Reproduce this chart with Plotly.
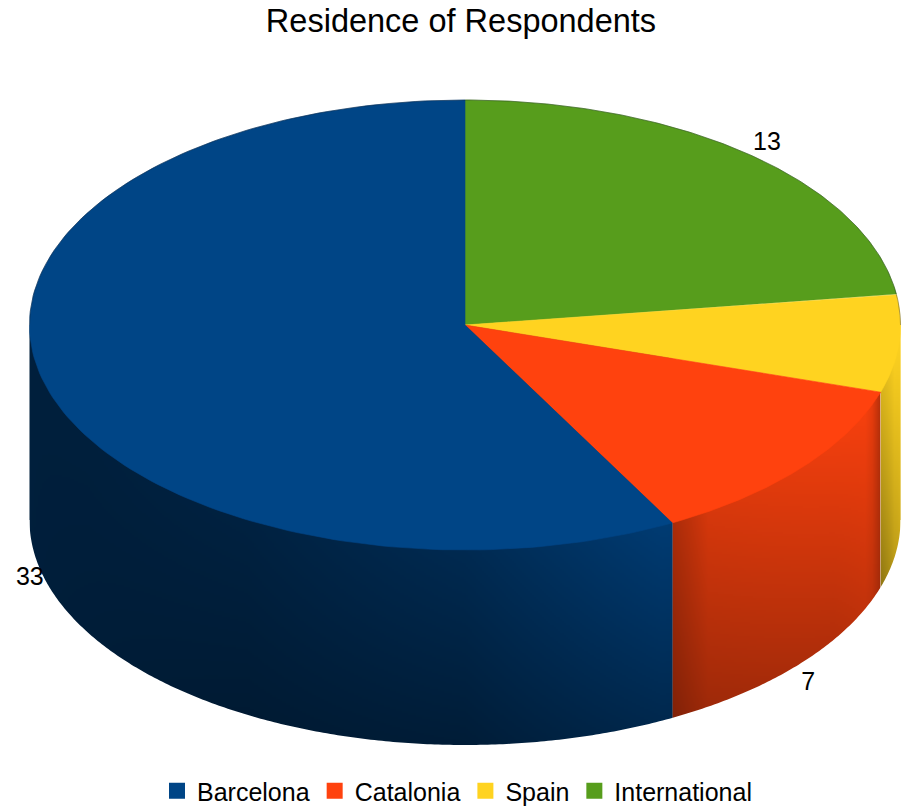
import numpy as np
import plotly.graph_objects as go

TITLE = "Residence of Respondents"
categories = ["Barcelona", "Catalonia", "Spain", "International"]
values = [33, 7, 4, 13]
colors = ["#004586", "#ff420e", "#ffd320", "#579d1c"]

# Pie drawing frame, in the pixel-scaled axes
CX, CY, RX, RY, DEPTH = 465.0, 325.0, 435.5, 225.0, 195.0

# Order of slices clockwise from 12 o'clock (as in the reference)
clock_order = [3, 2, 1, 0]
LABEL_NUDGE = {0: (-13, 4), 1: (7, 21), 2: (9, 11), 3: (16, -12)}

# Side shading: angle nodes, brightness at top and bottom of the wall
SHADE = {
    0: ([151.6, 153, 180, 210, 240, 270], [0.85, 0.85, 0.60, 0.48, 0.45, 0.45], [0.58, 0.58, 0.41, 0.38, 0.42, 0.45]),
    1: ([107.4, 110.5, 113, 122, 146, 149, 151.6], [0.72, 0.90, 0.96, 0.93, 0.84, 0.74, 0.66], [0.64, 0.74, 0.76, 0.70, 0.62, 0.56, 0.50]),
    2: ([90, 100, 107.4], [1.00, 0.97, 0.84], [0.84, 0.74, 0.56]),
}


def pt(theta, depth=0.0):
    t = np.radians(theta)
    return CX + RX * np.sin(t), CY - RY * np.cos(t) + depth


total = sum(values)
spans = {}
a = 0.0
for idx in clock_order:
    b = a + values[idx] / total * 360
    spans[idx] = (a, b)
    a = b

fig = go.Figure()


def wall(idx):
    a0, b0 = spans[idx]
    lo, hi = max(a0, 90), min(b0, 270)
    if lo >= hi:
        return
    nodes, top, bot = SHADE[idx]
    x_hi, x_lo = float(pt(lo)[0]), float(pt(hi)[0])
    nx = max(4, int(round((x_hi - x_lo) / (2 if idx == 0 else 1))))
    dx = (x_hi - x_lo) / nx
    xc = x_lo + dx * (np.arange(nx) + 0.5)
    y_start = float(min(pt(lo)[1], pt(hi)[1]))
    y_end = float(max(pt(lo, DEPTH)[1], pt(hi, DEPTH)[1], pt(np.clip(180, lo, hi), DEPTH)[1])) + 2
    dy = 2.0
    ny = int(np.ceil((y_end - y_start) / dy))
    yc = y_start + dy * (np.arange(ny) + 0.5)
    theta = 180 - np.degrees(np.arcsin(np.clip((xc - CX) / RX, -1, 1)))
    ft, fb = np.interp(theta, nodes, top), np.interp(theta, nodes, bot)
    surface_y = CY - RY * np.cos(np.radians(theta))
    d = np.clip((yc[:, None] - surface_y[None, :]) / DEPTH, 0, 1)
    z = np.round(ft[None, :] + (fb - ft)[None, :] * d, 3)
    fig.add_trace(go.Heatmap(z=z, x0=x_lo + dx / 2, dx=dx, y0=y_start + dy / 2, dy=dy, zmin=0, zmax=1,
                             colorscale=[[0, "#000000"], [1, colors[idx]]], showscale=False,
                             hoverinfo="skip"))


def top_face(idx):
    a0, b0 = spans[idx]
    th = np.linspace(a0, b0, 160)
    x, y = pt(th)
    xs = [CX] + list(x) + [CX]
    ys = [CY] + list(y) + [CY]
    fig.add_trace(go.Scatter(x=xs, y=ys, mode="lines", fill="toself", fillcolor=colors[idx],
                             line=dict(color=colors[idx], width=0.6), showlegend=False,
                             name=categories[idx], hoverinfo="name"))


for idx in clock_order:
    wall(idx)

# White cover that gives the walls their curved, anti-aliased lower edge
arc_t = np.linspace(90, 270, 361)
arc_x, arc_y = pt(arc_t, DEPTH)
fig.add_trace(go.Scatter(
    x=list(arc_x) + [CX - RX - 1, CX - RX - 1, CX + RX + 1, CX + RX + 1],
    y=list(arc_y) + [arc_y[-1], CY + RY + DEPTH + 12, CY + RY + DEPTH + 12, arc_y[0]],
    mode="none", fill="toself", fillcolor="#ffffff", showlegend=False, hoverinfo="skip"))

for idx in clock_order:
    top_face(idx)

# Thin dark rim along the back of the disc
rim_t = np.linspace(270, 450, 361)
rim_x, rim_y = pt(rim_t)
fig.add_trace(go.Scatter(x=rim_x, y=rim_y, mode="lines", line=dict(color="rgba(20,30,40,0.35)", width=1),
                         showlegend=False, hoverinfo="skip"))

# Legend entries
for name, col in zip(categories, colors):
    fig.add_trace(go.Scatter(x=[None], y=[None], mode="markers", name=name,
                             marker=dict(symbol="square", size=16, color=col)))

# Data labels
for idx in clock_order:
    a0, b0 = spans[idx]
    mid = (a0 + b0) / 2
    back = np.cos(np.radians(mid)) > 0.2
    x, y = pt(mid, 0 if back else DEPTH)
    nx, ny = LABEL_NUDGE[idx]
    fig.add_trace(go.Scatter(x=[x + nx], y=[y + ny], mode="text", text=[str(values[idx])],
                             textposition="middle center", cliponaxis=False,
                             textfont=dict(size=25, color="#000000"), showlegend=False, hoverinfo="skip"))

FONT = "Liberation Sans, Arial, sans-serif"
fig.update_layout(
    width=906, height=808, margin=dict(l=0, r=0, t=0, b=0, autoexpand=False),
    paper_bgcolor="white", plot_bgcolor="white",
    font=dict(family=FONT, color="#000000"),
    title=dict(text=TITLE, x=461 / 906, xanchor="center", y=1 - 21 / 808, yanchor="middle",
               font=dict(size=32.5, family=FONT)),
    xaxis=dict(range=[0, 906], visible=False, fixedrange=True),
    yaxis=dict(range=[808, 0], visible=False, fixedrange=True),
    legend=dict(orientation="h", x=457 / 906, xanchor="center", y=1 - 791 / 808, yanchor="middle",
                font=dict(size=25), itemwidth=30, bgcolor="rgba(0,0,0,0)", traceorder="normal"),
)
fig.write_html("out.html", config={"displayModeBar": False},
               post_script="document.body.style.margin='0';document.body.style.overflow='hidden';")
